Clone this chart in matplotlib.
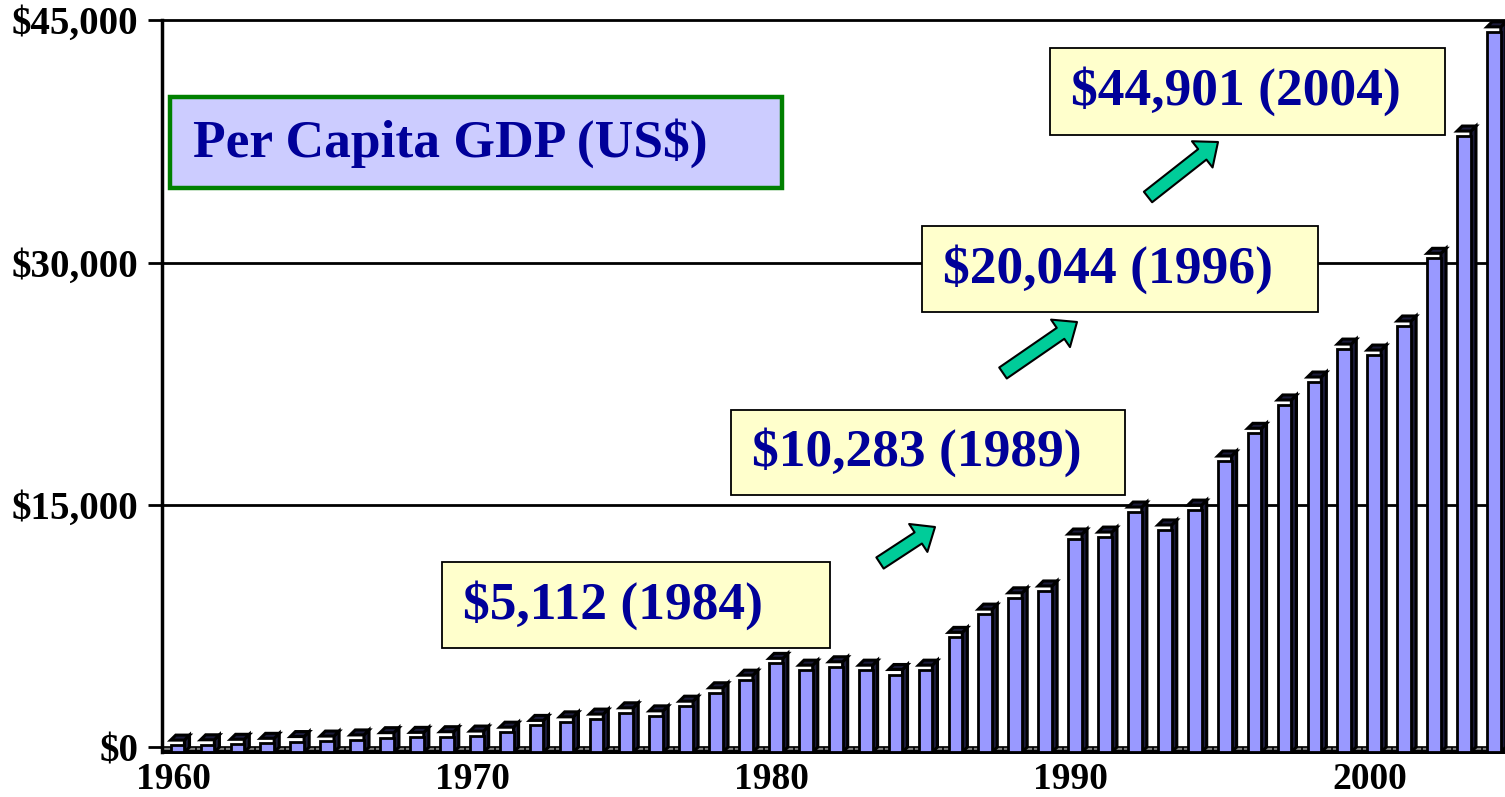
import numpy as np
import matplotlib.pyplot as plt
from matplotlib.patches import Rectangle, Polygon, FancyArrowPatch
from matplotlib.transforms import blended_transform_factory

# per capita GDP, US$
years = np.arange(1960, 2005)
gdp = [740, 760, 790, 850, 960, 990, 1060, 1200, 1220, 1260,
       1300, 1540, 1960, 2180, 2350, 2740, 2550, 3150, 3980, 4760,
       5800, 5380, 5590, 5380, 5112, 5380, 7410, 8850, 9860, 10283,
       13500, 13620, 15170, 14060, 15290, 18330, 20044, 21800, 23220, 25260,
       24890, 26690, 30880, 38450, 44901]

yticks = [0, 15000, 30000, 45000]
ytick_labels = ['$0', '$15,000', '$30,000', '$45,000']
xlabel_years = [1960, 1970, 1980, 1990, 2000]

title = 'Per Capita GDP (US$)'
notes = ['$5,112 (1984)', '$10,283 (1989)', '$20,044 (1996)', '$44,901 (2004)']

W, H = 1505, 797
serif = 'Liberation Serif'
navy = '#000099'

fig = plt.figure(figsize=(W / 100, H / 100), dpi=100)
ax = fig.add_axes([162 / W, 43 / H, (W - 162) / W, 739 / H])
ax.set_xlim(1959.38, 2004.27)
ax.set_ylim(-430, 45325)

# fake 3d depth
dx, dy = 0.17, 310
w = 0.46

# floor
ax.axhspan(-dy, 0, color='#808080', zorder=1)
ax.axhline(0, color='k', lw=1.2, zorder=1.5)
ax.axhline(-dy, color='k', lw=3, zorder=1.5)
ax.vlines(years + 0.5, -dy - 120, 0, color='k', lw=1.2, zorder=1.5)

for v in yticks[1:]:
    ax.axhline(v, color='k', lw=2, zorder=2)

for yr, v in zip(years, gdp):
    xl = yr - 0.33
    xr = xl + w
    side = [(xr, -dy), (xr + dx, 0), (xr + dx, v), (xr, v - dy)]
    top = [(xl, v - dy), (xl + dx, v), (xr + dx, v), (xr, v - dy)]
    ax.add_patch(Polygon(side, closed=True, fc='#1c1c3a', ec='k', lw=2.2, zorder=3))
    ax.add_patch(Polygon(top, closed=True, fc='#1c1c3a', ec='k', lw=2.2, zorder=3))
ax.bar(years - 0.33 + w / 2, np.array(gdp) - dy, bottom=-dy, width=w,
       color='#9999FF', edgecolor='k', lw=2, zorder=4)

for s in ['top', 'right', 'bottom']:
    ax.spines[s].set_visible(False)
ax.spines['left'].set_linewidth(2.5)
ax.spines['left'].set_bounds(-dy, 45000)

ax.set_yticks(yticks)
ax.set_yticklabels(ytick_labels, fontsize=28, fontweight='bold', family=serif)
ax.tick_params(axis='y', length=10, width=2, pad=7)
ax.set_xticks([])

# year labels sit at the front of the floor, a bit left of the bars
trans = blended_transform_factory(ax.transData, ax.transAxes)
for yr in xlabel_years:
    ax.text(yr - 0.25, -0.035, str(yr), transform=trans, ha='center', va='center',
            fontsize=27, fontweight='bold', family=serif, clip_on=False)


def box(x0, y0, x1, y1, fc, ec, lw):
    r = Rectangle((x0 / W, 1 - y1 / H), (x1 - x0) / W, (y1 - y0) / H,
                  transform=fig.transFigure, fc=fc, ec=ec, lw=lw, zorder=5)
    fig.add_artist(r)


# title box
box(170, 97, 782, 188, '#CCCCFF', '#008000', 3.2)
fig.text(193 / W, 1 - 143 / H, title, ha='left', va='center', fontsize=38.5,
         fontweight='bold', family=serif, color=navy, zorder=6)

# callout boxes
note_boxes = [(442, 562, 830, 648), (731, 410, 1125, 495),
              (922, 226, 1318, 312), (1050, 48, 1445, 135)]
for txt, (x0, y0, x1, y1) in zip(notes, note_boxes):
    box(x0, y0, x1, y1, '#FFFFCC', 'k', 1.3)
    fig.text((x0 + 21) / W, 1 - (y0 + y1) / 2 / H, txt, ha='left', va='center',
             fontsize=38.5, fontweight='bold', family=serif, color=navy, zorder=6)

# arrows
arrows = [((880, 563), (935, 527)), ((1003, 373), (1077, 322)),
          ((1148, 197), (1218, 142))]
for (ax0, ay0), (ax1, ay1) in arrows:
    a = FancyArrowPatch((ax0 / W, 1 - ay0 / H), (ax1 / W, 1 - ay1 / H),
                        transform=fig.transFigure,
                        arrowstyle='simple,head_length=0.9,head_width=1.5,tail_width=0.6',
                        mutation_scale=16, fc='#00CC99', ec='k', lw=1.5,
                        shrinkA=0, shrinkB=0, zorder=5)
    fig.add_artist(a)

fig.savefig('out.png', dpi=100)
